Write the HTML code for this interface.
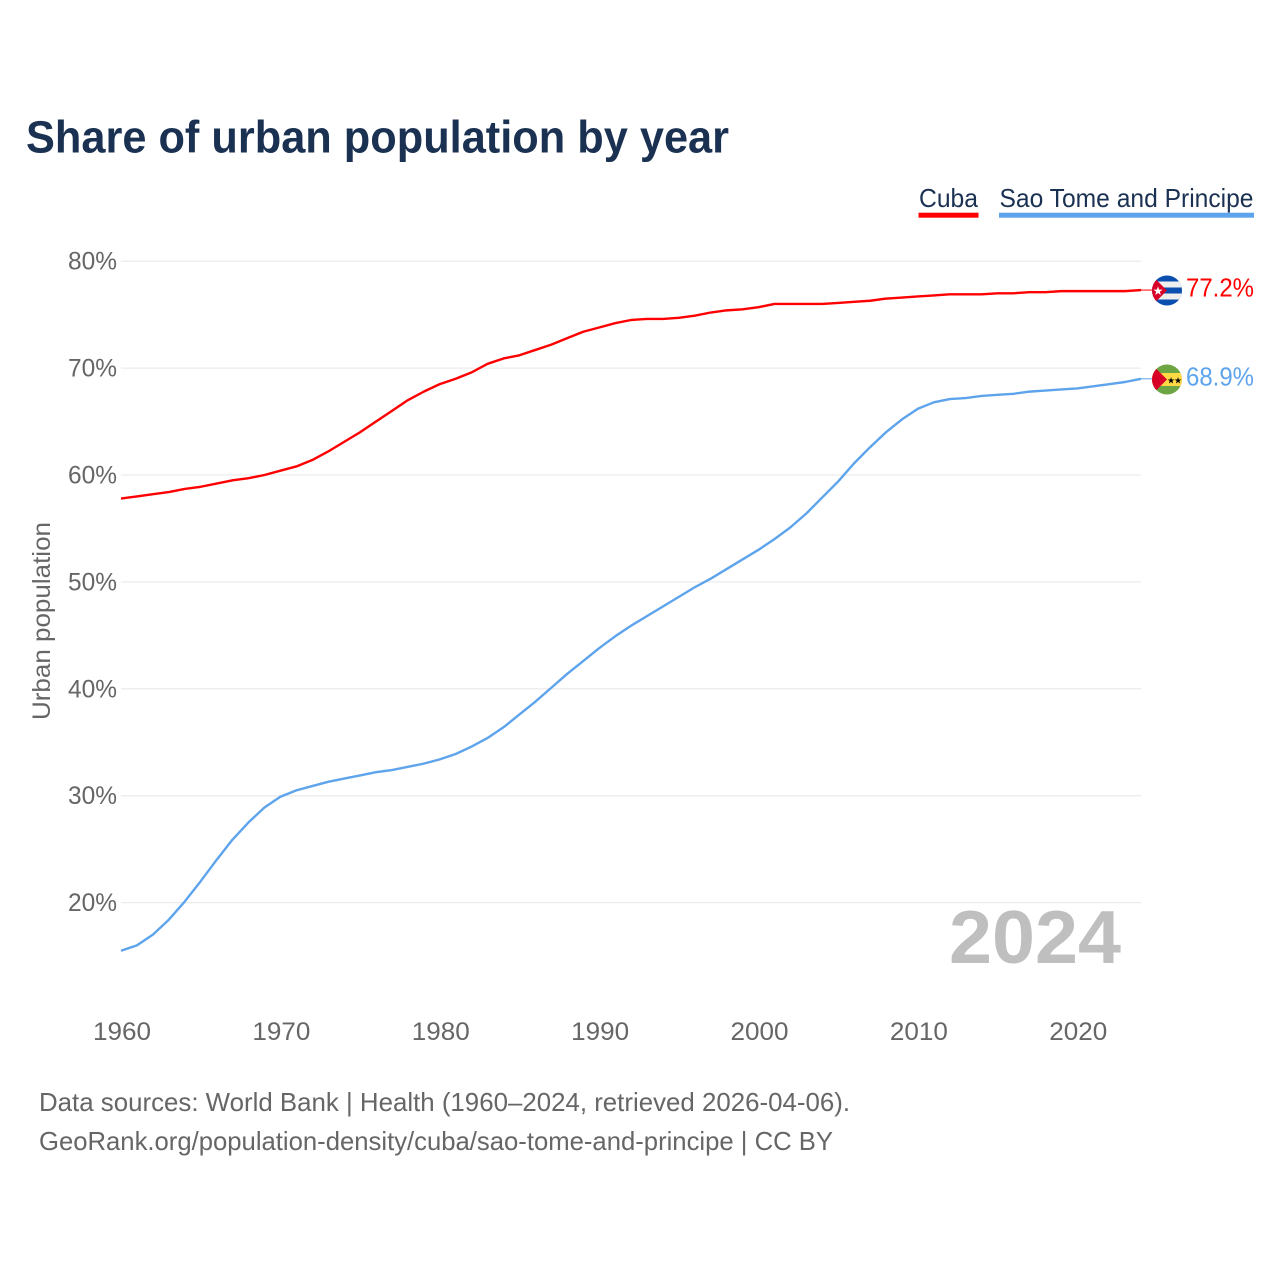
<!DOCTYPE html>
<html lang="en">
<head>
<meta charset="utf-8">
<title>Share of urban population by year</title>
<style>
html,body{margin:0;padding:0;background:#fff;width:1280px;height:1280px;overflow:hidden}
svg{display:block}
text{font-family:"Liberation Sans",sans-serif}
</style>
</head>
<body>
<svg id="chart" width="1280" height="1280" viewBox="0 0 1280 1280" xmlns="http://www.w3.org/2000/svg">
  <defs>
    <clipPath id="clip-cuba"><circle cx="1167" cy="290.5" r="15"/></clipPath>
    <clipPath id="clip-stp"><circle cx="1167" cy="379.5" r="15"/></clipPath>
  </defs>
  <rect width="1280" height="1280" fill="#fff"/>
  <text x="26" y="152.5" font-size="45" font-weight="700" fill="#1a3152" textLength="703" lengthAdjust="spacingAndGlyphs">Share of urban population by year</text>

  <g>
    <g>
      <text x="919" y="207" font-size="26" fill="#1a3152" textLength="59" lengthAdjust="spacingAndGlyphs">Cuba</text>
      <rect x="918.5" y="212.7" width="60" height="5" fill="#ff0000"/>
    </g>
    <g>
      <text x="999.5" y="207" font-size="26" fill="#1a3152" textLength="254" lengthAdjust="spacingAndGlyphs">Sao Tome and Principe</text>
      <rect x="999" y="212.7" width="255" height="5" fill="#5ea4ec"/>
    </g>
  </g>

  <g id="grid"></g>
  <g id="y-axis"></g>
  <g id="x-axis"></g>
  <text transform="translate(50,621) rotate(-90)" text-anchor="middle" font-size="25" fill="#666" textLength="198" lengthAdjust="spacingAndGlyphs">Urban population</text>
  <text x="1121" y="963" text-anchor="end" font-size="75" font-weight="700" fill="#bfbfbf" textLength="172" lengthAdjust="spacingAndGlyphs">2024</text>
  <g id="series"></g>

  <g clip-path="url(#clip-cuba)">
    <rect x="1152" y="275.5" width="30" height="30" fill="#0a4fb0"/>
    <rect x="1152" y="281.5" width="30" height="6" fill="#eeeeee"/>
    <rect x="1152" y="293.5" width="30" height="6" fill="#eeeeee"/>
    <path d="M1152 275.5 L1167 290.5 L1152 305.5 Z" fill="#d80027"/>
    <text x="1158" y="295" font-size="12" text-anchor="middle" fill="#fff">★</text>
  </g>
  <g clip-path="url(#clip-stp)">
    <rect x="1152" y="364.5" width="30" height="30" fill="#6da544"/>
    <rect x="1152" y="373" width="30" height="13" fill="#ffda44"/>
    <path d="M1152 364.5 L1167 379.5 L1152 394.5 Z" fill="#d80027"/>
    <text x="1171" y="383.5" font-size="9" text-anchor="middle" fill="#000">★</text>
    <text x="1178" y="383.5" font-size="9" text-anchor="middle" fill="#000">★</text>
  </g>
  <text x="1254" y="296.5" text-anchor="end" font-size="26" fill="#ff0000" textLength="68" lengthAdjust="spacingAndGlyphs">77.2%</text>
  <text x="1254" y="385.5" text-anchor="end" font-size="26" fill="#5ea4ec" textLength="68" lengthAdjust="spacingAndGlyphs">68.9%</text>

  <g>
    <text x="39" y="1111" font-size="26" fill="#666" textLength="811" lengthAdjust="spacingAndGlyphs">Data sources: World Bank | Health (1960–2024, retrieved 2026-04-06).</text>
    <text x="39" y="1150" font-size="26" fill="#666" textLength="794" lengthAdjust="spacingAndGlyphs">GeoRank.org/population-density/cuba/sao-tome-and-principe | CC BY</text>
  </g>
</svg>
<script>
const startYear = 1960;
const yTicks = [20, 30, 40, 50, 60, 70, 80];
const xTicks = [1960, 1970, 1980, 1990, 2000, 2010, 2020];
const cubaValues = [
  57.8, 58.0, 58.2, 58.4, 58.7, 58.9, 59.2, 59.5, 59.7, 60.0,
  60.4, 60.8, 61.4, 62.2, 63.1, 64.0, 65.0, 66.0, 67.0, 67.8,
  68.5, 69.0, 69.6, 70.4, 70.9, 71.2, 71.7, 72.2, 72.8, 73.4,
  73.8, 74.2, 74.5, 74.6, 74.6, 74.7, 74.9, 75.2, 75.4, 75.5,
  75.7, 76.0, 76.0, 76.0, 76.0, 76.1, 76.2, 76.3, 76.5, 76.6,
  76.7, 76.8, 76.9, 76.9, 76.9, 77.0, 77.0, 77.1, 77.1, 77.2,
  77.2, 77.2, 77.2, 77.2, 77.3
];
const saoTomeValues = [
  15.5, 16.0, 17.0, 18.4, 20.1, 22.0, 24.0, 25.9, 27.5, 28.9,
  29.9, 30.5, 30.9, 31.3, 31.6, 31.9, 32.2, 32.4, 32.7, 33.0,
  33.4, 33.9, 34.6, 35.4, 36.4, 37.6, 38.8, 40.1, 41.4, 42.6,
  43.8, 44.9, 45.9, 46.8, 47.7, 48.6, 49.5, 50.3, 51.2, 52.1,
  53.0, 54.0, 55.1, 56.4, 57.9, 59.4, 61.1, 62.6, 64.0, 65.2,
  66.2, 66.8, 67.1, 67.2, 67.4, 67.5, 67.6, 67.8, 67.9, 68.0,
  68.1, 68.3, 68.5, 68.7, 69.0
];

const NS = 'http://www.w3.org/2000/svg';
const xScale = function (year) { return 121 + (year - 1960) * (1141 - 121) / 64; };
const yScale = function (v) { return 902.6 - (v - 20) * 10.69; };

const gridGroup = document.getElementById('grid');
const yGroup = document.getElementById('y-axis');
const xGroup = document.getElementById('x-axis');
const seriesGroup = document.getElementById('series');

yTicks.forEach(function (t) {
  const line = document.createElementNS(NS, 'line');
  
  
  line.setAttribute('x1', 121);
  line.setAttribute('x2', 1141);
  line.setAttribute('y1', yScale(t));
  line.setAttribute('y2', yScale(t));
  line.setAttribute('stroke', '#ececec');
  line.setAttribute('stroke-width', 1.3);
  gridGroup.appendChild(line);

  const label = document.createElementNS(NS, 'text');
  
  
  label.setAttribute('x', 117);
  label.setAttribute('y', yScale(t) + 8.5);
  label.setAttribute('text-anchor', 'end');
  label.setAttribute('font-size', 25);
  label.setAttribute('fill', '#666');
  label.setAttribute('textLength', 49);
  label.setAttribute('lengthAdjust', 'spacingAndGlyphs');
  label.textContent = t + '%';
  yGroup.appendChild(label);
});

xTicks.forEach(function (t) {
  const label = document.createElementNS(NS, 'text');
  
  
  label.setAttribute('x', xScale(t) + 1);
  label.setAttribute('y', 1040);
  label.setAttribute('text-anchor', 'middle');
  label.setAttribute('font-size', 25);
  label.setAttribute('fill', '#666');
  label.setAttribute('textLength', 58);
  label.setAttribute('lengthAdjust', 'spacingAndGlyphs');
  label.textContent = t;
  xGroup.appendChild(label);
});

function drawSeries(values, color, key) {
  const pts = values.map(function (v, i) {
    return xScale(startYear + i).toFixed(2) + ',' + yScale(v).toFixed(2);
  }).join(' ');
  const line = document.createElementNS(NS, 'polyline');
  
  
  line.setAttribute('points', pts);
  line.setAttribute('fill', 'none');
  line.setAttribute('stroke', color);
  line.setAttribute('stroke-width', 2.4);
  line.setAttribute('stroke-linejoin', 'round');
  seriesGroup.appendChild(line);

  const last = values[values.length - 1];
  const leader = document.createElementNS(NS, 'line');
  
  
  leader.setAttribute('x1', xScale(startYear + values.length - 1));
  leader.setAttribute('x2', 1152);
  leader.setAttribute('y1', yScale(last));
  leader.setAttribute('y2', yScale(last));
  leader.setAttribute('stroke', color);
  leader.setAttribute('stroke-width', 1);
  seriesGroup.appendChild(leader);
}
drawSeries(cubaValues, '#ff0000', 'cuba');
drawSeries(saoTomeValues, '#5ea4ec', 'sao-tome');
</script>
</body>
</html>
